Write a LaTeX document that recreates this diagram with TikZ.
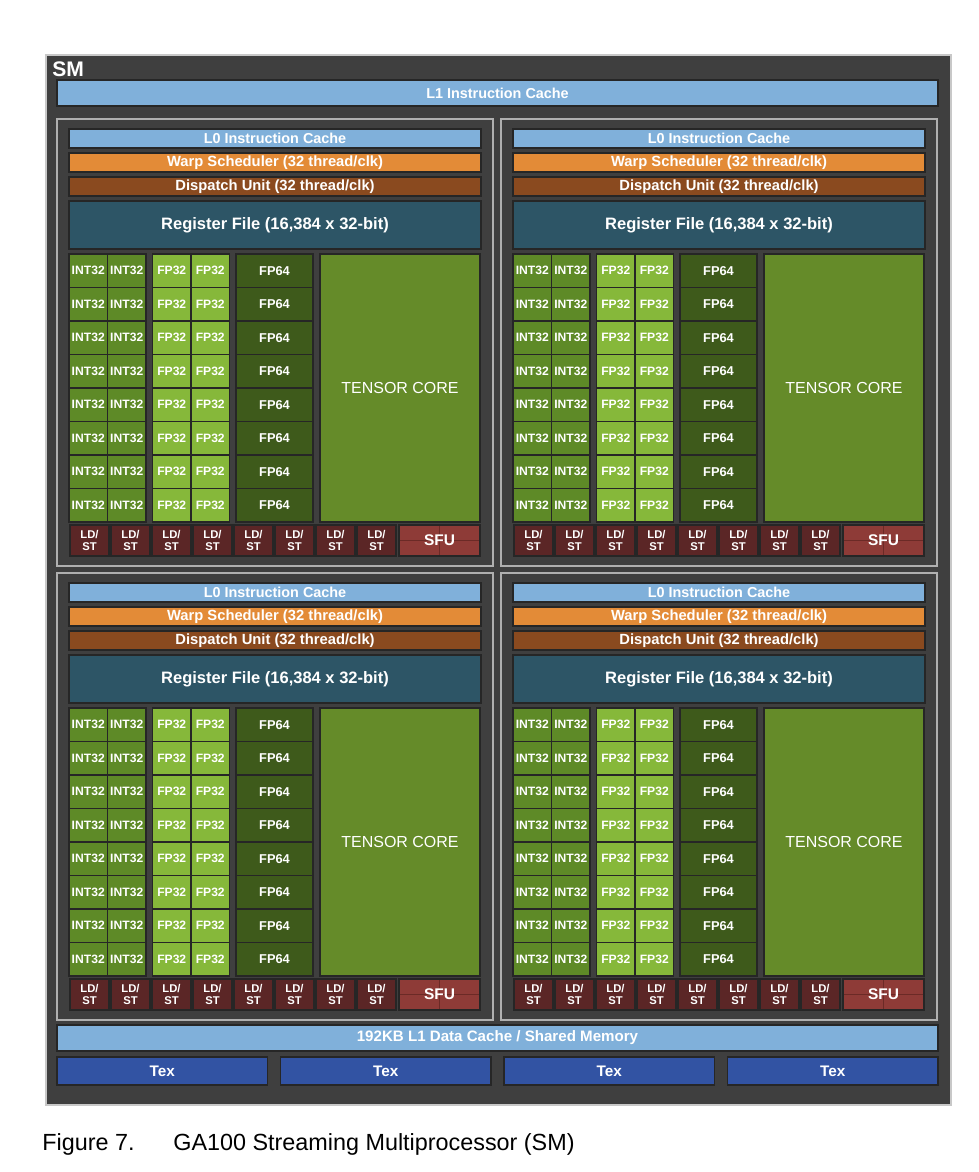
\documentclass[tikz,border=0pt]{standalone}
\usepackage{fontspec}
\setmainfont{Liberation Sans}

\definecolor{smgray}{HTML}{3F3F3F}
\definecolor{smedge}{HTML}{C8C8C8}
\definecolor{quadedge}{HTML}{B0B0B0}
\definecolor{cachebl}{HTML}{80B0DA}
\definecolor{warpor}{HTML}{E38B37}
\definecolor{dispbr}{HTML}{8A4A1F}
\definecolor{regteal}{HTML}{2D5566}
\definecolor{intgr}{HTML}{5E8A27}
\definecolor{fpgr}{HTML}{86B83A}
\definecolor{dpgr}{HTML}{3E5A1B}
\definecolor{tensgr}{HTML}{658B29}
\definecolor{ldstrd}{HTML}{5B2626}
\definecolor{sfurd}{HTML}{8E3B37}
\definecolor{sfuln}{HTML}{6B2A26}
\definecolor{texbl}{HTML}{3253A3}

\newlength\pxu
\setlength\pxu{0.02cm}

\begin{document}
\begin{tikzpicture}[x=0.02cm, y=-0.02cm,
  sz/.style 2 args={minimum width=#1*\pxu, minimum height=#2*\pxu},
  blk/.style={draw=black!85, line width=0.6pt, inner sep=0pt, outer sep=0pt,
    anchor=north west, text=white, font=\bfseries\fontsize{8.2}{9}\selectfont},
  cache/.style={blk, fill=cachebl},
  warp/.style={blk, fill=warpor, font=\bfseries\fontsize{8.4}{9}\selectfont},
  disp/.style={blk, fill=dispbr, font=\bfseries\fontsize{8.4}{9}\selectfont},
  regf/.style={blk, fill=regteal, font=\bfseries\fontsize{9.4}{10}\selectfont},
  intc/.style={blk, fill=intgr, font=\bfseries\fontsize{6.9}{8}\selectfont},
  fpc/.style={blk, fill=fpgr, font=\bfseries\fontsize{6.9}{8}\selectfont},
  dpc/.style={blk, fill=dpgr, font=\bfseries\fontsize{7.3}{8}\selectfont},
  tens/.style={blk, fill=tensgr, font=\fontsize{9.1}{10}\selectfont},
  ldst/.style={blk, fill=ldstrd, align=center, font=\bfseries\fontsize{6.4}{7.2}\selectfont},
  sfu/.style={blk, fill=sfurd, font=\bfseries\fontsize{8.8}{10}\selectfont,
    path picture={\draw[sfuln, line width=0.6pt]
      (path picture bounding box.north) -- (path picture bounding box.south)
      (path picture bounding box.west) -- (path picture bounding box.east);}},
  texc/.style={blk, fill=texbl, font=\bfseries\fontsize{8.7}{9}\selectfont},
  frame/.style={draw=quadedge, line width=1pt, fill=smgray, inner sep=0pt, outer sep=0pt, anchor=north west},
  capt/.style={anchor=base west, inner sep=0pt, font=\fontsize{13.3}{15}\selectfont}]

\useasboundingbox[fill=white] (0,0) rectangle (978,1172);

% SM outline
\node[frame, draw=smedge, line width=1.6pt, sz={905}{1050}] (sm) at (46,55) {};
\node[anchor=base west, inner sep=0pt, text=white, font=\bfseries\fontsize{12}{13}\selectfont] (smlbl) at (52,77) {SM};
\node[cache, sz={881}{26}] (l1i) at (57,80) {L1 Instruction Cache};

% four processing blocks
\foreach \q/\ox/\oy in {a/0/0, b/444/0, c/0/454, d/444/454}{
  \node[frame, sz={436}{447}] (quad\q) at (\ox+57,\oy+119) {};
  \node[cache, sz={412}{19}] (l0\q) at (\ox+69,\oy+129) {L0 Instruction Cache};
  \node[warp, sz={412}{19}] (warp\q) at (\ox+69,\oy+153) {Warp Scheduler (32 thread/clk)};
  \node[disp, sz={412}{19}] (disp\q) at (\ox+69,\oy+177) {Dispatch Unit (32 thread/clk)};
  \node[regf, sz={412}{48}] (reg\q) at (\ox+69,\oy+201) {Register File (16,384 x 32-bit)};
  \foreach \r in {0,...,7}{
    \foreach \c in {0,1}{
      \node[intc, sz={38.5}{33.5}] (int\q\r\c) at (\ox+69+38.5*\c,\oy+254+33.5*\r) {INT32};
      \node[fpc, sz={38.5}{33.5}] (fp\q\r\c) at (\ox+152.5+38.5*\c,\oy+254+33.5*\r) {FP32};
    }
    \node[dpc, sz={77}{33.5}] (dp\q\r) at (\ox+236,\oy+254+33.5*\r) {FP64};
  }
  \node[tens, sz={160}{268}] (tc\q) at (\ox+320,\oy+254) {TENSOR CORE};
  \foreach \i in {0,...,7}
    \node[ldst, sz={39}{31}] (ldst\q\i) at (\ox+70+41*\i,\oy+525) {LD/\\ST};
  \node[sfu, sz={81}{31}] (sfu\q) at (\ox+399,\oy+525) {SFU};
}

% shared memory and texture units
\node[cache, sz={881}{26}, font=\bfseries\fontsize{8.6}{9}\selectfont] (l1d) at (57,1025) {192KB L1 Data Cache / Shared Memory};
\foreach \t/\tx in {1/57, 2/280.5, 3/504, 4/727.5}
  \node[texc, sz={210.5}{28}] (tex\t) at (\tx,1057) {Tex};

% caption
\node[capt] (fignum) at (42,1150) {Figure 7.};
\node[capt] (figcap) at (173,1150) {GA100 Streaming Multiprocessor (SM)};
\end{tikzpicture}
\end{document}
